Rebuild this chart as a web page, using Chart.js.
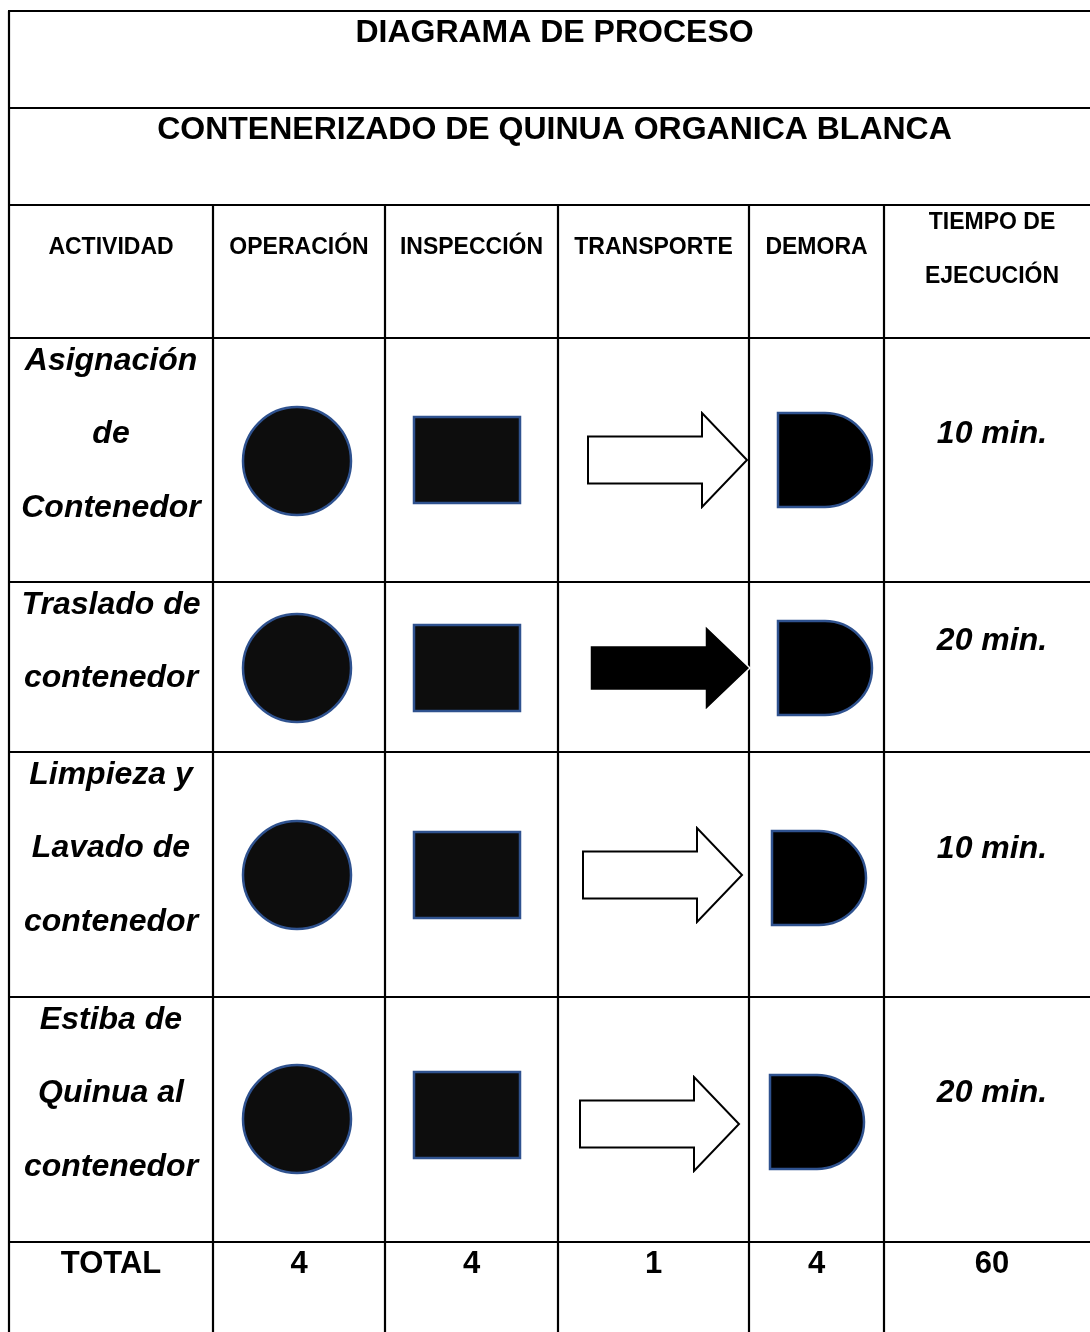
<!DOCTYPE html>
<html>
<head>
<meta charset="utf-8">
<script src="https://cdn.jsdelivr.net/npm/chart.js@4.4.1/dist/chart.umd.min.js"></script>
<style>
  html, body { margin: 0; padding: 0; background: #fff; }
  #wrap { width: 1090px; height: 1332px; }
</style>
</head>
<body>
<div id="wrap"><canvas id="diagrama" width="1090" height="1332"></canvas></div>
<script>
// datos del diagrama
const titulo = 'DIAGRAMA DE PROCESO';
const subtitulo = 'CONTENERIZADO DE QUINUA ORGANICA BLANCA';
const columnas = [['ACTIVIDAD'], ['OPERACIÓN'], ['INSPECCIÓN'], ['TRANSPORTE'], ['DEMORA'], ['TIEMPO DE', 'EJECUCIÓN']];
const actividades = [
  ['Asignación', 'de', 'Contenedor'],
  ['Traslado de', 'contenedor'],
  ['Limpieza y', 'Lavado de', 'contenedor'],
  ['Estiba de', 'Quinua al', 'contenedor']
];
const operacion = [1, 1, 1, 1];
const inspeccion = [1, 1, 1, 1];
const transporte = [0, 1, 0, 0]; // 1 = flecha rellena
const demora = [1, 1, 1, 1];
const tiempos = [10, 20, 10, 20];
const totales = [4, 4, 1, 4, 60];

// disposicion (pixeles de la tabla)
const colEdges = [9, 213, 385, 558, 749, 884, 1100];
const rowEdges = [11, 108, 205, 338, 582, 752, 997, 1242, 1345];
const opPos = [[297, 461], [297, 668], [297, 875], [297, 1119]];
const insPos = [[467, 460], [467, 668], [467, 875], [467, 1115]];
const trPos = [[668, 460], [671, 668], [663, 875], [660, 1124]];
const dePos = [[826, 460], [826, 668], [820, 878], [818, 1122]];
const tiempoY = [432, 639, 847, 1091];

const azul = '#2f528f';
const fuente = '"Liberation Sans", Arial, sans-serif';

function lienzo(w, h, draw) {
  const c = document.createElement('canvas');
  c.width = w; c.height = h;
  draw(c.getContext('2d'));
  return c;
}

const circulo = lienzo(114, 114, ctx => {
  ctx.beginPath(); ctx.arc(57, 57, 54, 0, Math.PI * 2);
  ctx.fillStyle = '#0d0d0d'; ctx.fill();
  ctx.lineWidth = 2.5; ctx.strokeStyle = azul; ctx.stroke();
});
const cuadro = lienzo(110, 90, ctx => {
  ctx.fillStyle = '#0d0d0d'; ctx.fillRect(2, 2, 106, 86);
  ctx.lineWidth = 2.5; ctx.strokeStyle = azul; ctx.strokeRect(2, 2, 106, 86);
});
const flechaVacia = lienzo(164, 98, ctx => {
  ctx.beginPath();
  ctx.moveTo(2, 25.5); ctx.lineTo(116, 25.5); ctx.lineTo(116, 2); ctx.lineTo(161, 49);
  ctx.lineTo(116, 96); ctx.lineTo(116, 72.5); ctx.lineTo(2, 72.5); ctx.closePath();
  ctx.fillStyle = '#fff'; ctx.fill();
  ctx.lineWidth = 2; ctx.strokeStyle = '#000'; ctx.stroke();
});
const flechaLlena = lienzo(166, 90, ctx => {
  ctx.beginPath();
  ctx.moveTo(2, 22.5); ctx.lineTo(117, 22.5); ctx.lineTo(117, 2); ctx.lineTo(162, 45);
  ctx.lineTo(117, 88); ctx.lineTo(117, 67.5); ctx.lineTo(2, 67.5); ctx.closePath();
  ctx.fillStyle = '#000'; ctx.fill();
  ctx.lineWidth = 1.5; ctx.strokeStyle = '#fff'; ctx.stroke();
});
const demoraForma = lienzo(100, 98, ctx => {
  ctx.beginPath();
  ctx.moveTo(2, 2); ctx.lineTo(49, 2);
  ctx.arc(49, 49, 47, -Math.PI / 2, Math.PI / 2);
  ctx.lineTo(2, 96); ctx.closePath();
  ctx.fillStyle = '#000'; ctx.fill();
  ctx.lineWidth = 2.5; ctx.strokeStyle = azul; ctx.stroke();
});

function puntos(vals, pos, cond) {
  const out = [];
  vals.forEach((v, i) => { if (cond(v)) out.push({ x: pos[i][0], y: pos[i][1] }); });
  return out;
}

function serie(label, data, estilo) {
  return { label, data, pointStyle: estilo, pointRadius: 20, pointHoverRadius: 20, clip: false };
}

const tabla = {
  id: 'tabla',
  beforeDatasetsDraw(chart) {
    const ctx = chart.ctx, sx = chart.scales.x, sy = chart.scales.y;
    const X = v => sx.getPixelForValue(v), Y = v => sy.getPixelForValue(v);
    ctx.save();
    ctx.strokeStyle = '#000';
    ctx.lineWidth = 2.2;
    ctx.beginPath();
    rowEdges.forEach(r => { ctx.moveTo(X(colEdges[0]) - 1, Y(r)); ctx.lineTo(X(colEdges[6]), Y(r)); });
    ctx.moveTo(X(colEdges[0]), Y(rowEdges[0])); ctx.lineTo(X(colEdges[0]), Y(rowEdges[8]));
    for (let i = 1; i < colEdges.length; i++) {
      ctx.moveTo(X(colEdges[i]), Y(rowEdges[2])); ctx.lineTo(X(colEdges[i]), Y(rowEdges[8]));
    }
    ctx.stroke();

    const cx = i => X((colEdges[i] + colEdges[i + 1]) / 2);
    const midAll = X((colEdges[0] + colEdges[6]) / 2);
    ctx.fillStyle = '#000';
    ctx.textAlign = 'center';
    ctx.textBaseline = 'alphabetic';

    ctx.font = 'bold 32px ' + fuente;
    ctx.fillText(titulo, midAll, Y(rowEdges[0] + 30.5));
    ctx.fillText(subtitulo, midAll, Y(rowEdges[1] + 30.5));

    ctx.font = 'bold 23px ' + fuente;
    columnas.forEach((lineas, i) => {
      if (lineas.length === 1) {
        ctx.fillText(lineas[0], cx(i), Y(254));
      } else {
        ctx.fillText(lineas[0], cx(i), Y(229));
        ctx.fillText(lineas[1], cx(i), Y(283));
      }
    });

    ctx.font = 'italic bold 32px ' + fuente;
    actividades.forEach((lineas, r) => {
      lineas.forEach((t, k) => {
        ctx.fillText(t, cx(0), Y(rowEdges[3 + r] + 31.5 + k * 73.5));
      });
      ctx.fillText(tiempos[r] + ' min.', cx(5), Y(tiempoY[r] + 11));
    });

    ctx.font = 'bold 31px ' + fuente;
    ctx.fillText('TOTAL', cx(0), Y(1273));
    totales.forEach((t, i) => ctx.fillText(String(t), cx(i + 1), Y(1273)));
    ctx.restore();
  }
};

new Chart(document.getElementById('diagrama'), {
  type: 'scatter',
  data: {
    datasets: [
      serie('OPERACIÓN', puntos(operacion, opPos, v => v === 1), circulo),
      serie('INSPECCIÓN', puntos(inspeccion, insPos, v => v === 1), cuadro),
      serie('TRANSPORTE', puntos(transporte, trPos, v => v === 0), flechaVacia),
      serie('TRANSPORTE realizado', puntos(transporte, trPos, v => v === 1), flechaLlena),
      serie('DEMORA', puntos(demora, dePos, v => v === 1), demoraForma)
    ]
  },
  options: {
    responsive: false,
    animation: false,
    events: [],
    layout: { padding: 0, autoPadding: false },
    scales: {
      x: { type: 'linear', min: 0, max: 1090, display: false },
      y: { type: 'linear', min: 0, max: 1332, reverse: true, display: false }
    },
    plugins: {
      legend: { display: false },
      tooltip: { enabled: false }
    }
  },
  plugins: [tabla]
});
</script>
</body>
</html>
